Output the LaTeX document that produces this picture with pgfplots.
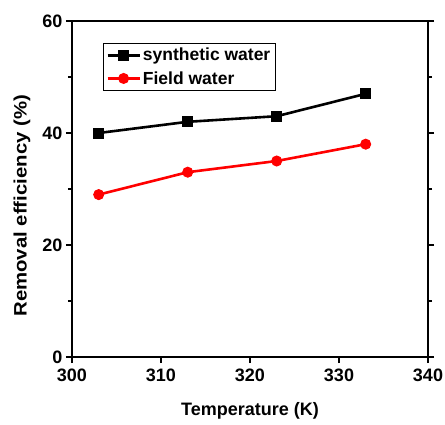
\documentclass[border=0pt]{standalone}
\usepackage{pgfplots}
\pgfplotsset{compat=1.18}
\usepackage{fontspec}
\setmainfont{Liberation Sans}
\begin{document}
\begin{tikzpicture}[x=1pt,y=1pt]
  \path[use as bounding box] (-72,-67) rectangle (373,357);
  \begin{axis}[
    at={(0,0)}, anchor=south west,
    width=356pt, height=336pt, scale only axis,
    xmin=300, xmax=340, ymin=0, ymax=60,
    xtick={300,310,...,340},
    ytick={0,20,40,60},
    minor ytick={10,30,50},
    axis line style={line width=2.2pt},
    every tick/.style={black, line width=1.4pt},
    major tick length=6pt, minor tick length=4pt,
    tick align=outside,
    xtick pos=bottom,
    ytick pos=both,
    font=\fontsize{18}{20}\selectfont\bfseries,
    /pgf/number format/assume math mode=true,
    xticklabel style={yshift=-2pt},
    xlabel={Temperature (K)},
    ylabel={\scalebox{1.13}[1]{Removal efficiency (\%)}},
    xlabel style={at={(axis description cs:0.5,0)}, anchor=north, yshift=-42pt},
    ylabel style={at={(axis description cs:0,0.45)}, anchor=south, yshift=38pt},
    legend style={
      at={(0.087,0.935)}, anchor=north west,
      draw=black, line width=0.7pt,
      font=\fontsize{17.5}{20}\selectfont\bfseries,
      row sep=5pt, inner sep=3pt},
    legend cell align=left,
    legend image code/.code={
      \draw[mark repeat=2, mark phase=2, #1]
        plot coordinates {(0pt,0pt) (16pt,0pt) (32pt,0pt)};},
  ]
    \addplot[black, line width=2.6pt, mark=square*, mark size=5pt,
      mark options={line width=1pt}] coordinates {
      (303, 40) (313, 42) (323, 43) (333, 47)
    };
    \addplot[red, line width=2.6pt, mark=*, mark size=5pt,
      mark options={line width=1pt}] coordinates {
      (303, 29) (313, 33) (323, 35) (333, 38)
    };
    \legend{synthetic water, Field water}
  \end{axis}
\end{tikzpicture}
\end{document}
